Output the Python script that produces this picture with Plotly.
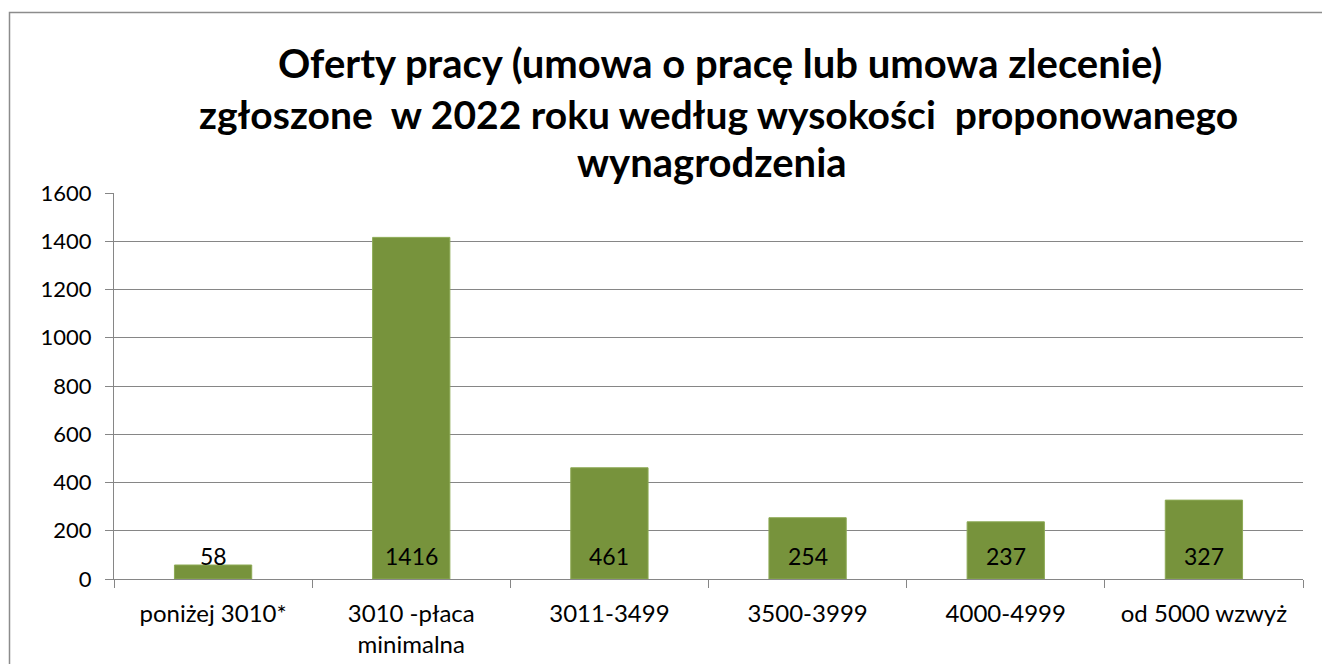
import plotly.graph_objects as go

categories = ["poniżej 3010*", "3010 -płaca<br>minimalna", "3011-3499", "3500-3999", "4000-4999", "od 5000 wzwyż"]
values = [58, 1416, 461, 254, 237, 327]
y_ticks = [0, 200, 400, 600, 800, 1000, 1200, 1400, 1600]
title_lines = [
    "Oferty pracy (umowa o pracę lub umowa zlecenie)",
    "zgłoszone  w 2022 roku według wysokości  proponowanego",
    "wynagrodzenia",
]

W, H = 1322, 664
L, R, T, B = 114, 1303, 193, 579
FONT = "Lato, 'Open Sans', sans-serif"

fig = go.Figure()
fig.add_trace(go.Bar(
    x=categories, y=values,
    marker=dict(color="#77933C", line=dict(color="#8DAA55", width=1)),
    width=0.39,
    hoverinfo="x+y",
))

def px_x(p):
    return (p - L) / (R - L)

def px_y(p):
    return (B - p) / (B - T)

annotations = []
for c, v in zip(categories, values):
    annotations.append(dict(x=c, y=0, xref="x", yref="y", text=str(v), showarrow=False,
                            yanchor="middle", yshift=23,
                            font=dict(family=FONT, size=23, color="#000000")))
for txt, xc, yc, fs in zip(title_lines, [720, 718, 712], [63, 114, 162], [40, 39, 40]):
    annotations.append(dict(x=px_x(xc), y=px_y(yc), xref="paper", yref="paper", text="<b>" + txt + "</b>",
                            showarrow=False, xanchor="center", yanchor="middle",
                            font=dict(family=FONT, size=fs, color="#000000")))

fig.update_layout(
    width=W, height=H,
    margin=dict(l=L, r=W - R, t=T, b=H - B, pad=0, autoexpand=False),
    paper_bgcolor="white", plot_bgcolor="white",
    showlegend=False,
    annotations=annotations,
    shapes=[dict(type="rect", xref="paper", yref="paper",
                 x0=px_x(9.5), x1=px_x(1330), y0=px_y(700), y1=px_y(12.5),
                 line=dict(color="#8C8C8C", width=1.5), layer="below")],
    font=dict(family=FONT, color="#000000"),
    bargap=0.61,
)
fig.update_xaxes(
    type="category", tickson="boundaries", ticks="outside", ticklen=8, tickcolor="#868686",
    showline=True, linecolor="#868686", linewidth=1, showgrid=False, automargin=False,
    tickfont=dict(family=FONT, size=24, color="#000000"), ticklabelstandoff=13,
)
fig.update_yaxes(
    range=[0, 1600], tickvals=y_ticks, ticks="outside", ticklen=8, tickcolor="#868686",
    showline=True, linecolor="#868686", linewidth=1, automargin=False,
    showgrid=True, gridcolor="#868686", gridwidth=1, zeroline=False,
    tickfont=dict(family=FONT, size=22, color="#000000"), ticklabelstandoff=9,
)

fig.write_html("out.html", config={"displayModeBar": False},
               post_script="document.body.style.margin='0';document.body.style.overflow='hidden';")
